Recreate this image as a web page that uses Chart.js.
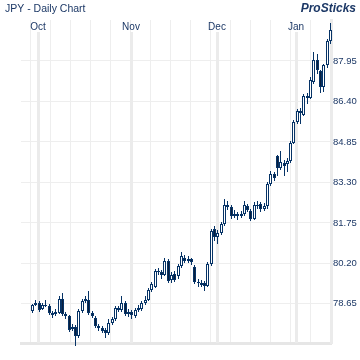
<!DOCTYPE html>
<html>
<head>
<meta charset="utf-8">
<script src="https://cdn.jsdelivr.net/npm/chart.js@4.4.0/dist/chart.umd.min.js"></script>
<style>
  html, body { margin: 0; padding: 0; background: #fff; }
</style>
</head>
<body>
<canvas id="chart" width="360" height="360"></canvas>
<script>
// Daily candles, late Sep -> mid Jan (index 0..90)
const opens = [
  78.37, 78.60, 78.68, 78.45, 78.62, 78.58, 78.30, 78.25, 78.30, 78.85,
  78.25, 78.18, 77.70, 77.78, 77.40, 78.37, 78.75, 78.78, 78.30, 78.12,
  77.80, 77.72, 77.66, 77.52, 77.90, 78.06, 78.48, 78.40, 78.68, 78.26,
  78.33, 78.20, 78.40, 78.45, 78.68, 78.80, 79.17, 79.30, 79.90, 79.85,
  79.75, 80.29, 79.55, 79.78, 79.70, 80.09, 80.40, 80.30, 80.35, 80.05,
  79.50, 79.45, 79.45, 79.33, 80.17, 81.50, 81.20, 81.35, 81.70, 82.45,
  82.35, 82.02, 82.08, 82.00, 82.10, 82.40, 82.22, 81.90, 82.45, 82.48,
  82.30, 82.38, 83.25, 83.62, 84.30, 83.85, 84.05, 84.02, 84.12, 84.82,
  85.62, 86.05, 85.90, 86.62, 86.55, 87.15, 88.00, 87.55, 86.95, 87.78,
  88.70
];
const closes = [
  78.60, 78.68, 78.41, 78.62, 78.58, 78.30, 78.22, 78.35, 78.85, 78.25,
  78.18, 77.65, 77.78, 77.40, 78.37, 78.75, 78.82, 78.30, 78.20, 77.80,
  77.72, 77.62, 77.52, 77.90, 78.06, 78.48, 78.40, 78.68, 78.26, 78.35,
  78.22, 78.40, 78.50, 78.68, 78.80, 79.17, 79.40, 79.90, 79.85, 79.75,
  80.29, 79.52, 79.75, 79.55, 80.09, 80.48, 80.30, 80.38, 80.25, 79.50,
  79.45, 79.38, 79.33, 80.17, 81.44, 81.20, 81.35, 81.70, 82.45, 82.35,
  82.02, 82.10, 82.00, 82.10, 82.45, 82.25, 81.90, 82.45, 82.40, 82.30,
  82.38, 83.25, 83.62, 83.48, 83.85, 84.10, 83.92, 84.12, 84.82, 85.62,
  86.05, 85.95, 86.62, 86.55, 87.22, 88.00, 87.60, 86.95, 87.78, 88.70,
  89.15
];
const highs = [
  78.66, 78.80, 78.74, 78.70, 78.78, 78.64, 78.38, 78.44, 78.95, 79.05,
  78.32, 78.24, 77.88, 77.84, 78.45, 78.82, 78.95, 79.15, 78.38, 78.18,
  77.88, 77.80, 77.72, 78.05, 78.14, 78.55, 78.58, 78.95, 78.74, 78.44,
  78.40, 78.48, 78.60, 78.76, 78.95, 79.26, 79.50, 79.98, 80.02, 79.95,
  80.40, 80.36, 79.86, 79.90, 80.18, 80.62, 80.52, 80.47, 80.42, 80.12,
  79.60, 79.55, 79.52, 80.26, 81.52, 81.62, 81.46, 81.80, 82.65, 82.58,
  82.42, 82.25, 82.18, 82.22, 82.58, 82.48, 82.30, 82.55, 82.58, 82.55,
  82.52, 83.32, 83.72, 83.70, 84.35, 84.50, 84.15, 84.25, 84.90, 85.70,
  86.12, 86.14, 86.70, 86.72, 87.32, 88.28, 88.22, 87.62, 87.85, 88.78,
  89.42
];
const lows = [
  78.30, 78.55, 78.35, 78.40, 78.52, 78.22, 78.12, 78.18, 78.26, 78.18,
  78.08, 77.58, 77.62, 77.02, 77.35, 78.30, 78.68, 78.22, 78.10, 77.72,
  77.62, 77.55, 77.33, 77.46, 77.84, 78.00, 78.33, 78.35, 78.18, 78.16,
  78.06, 78.12, 78.32, 78.38, 78.60, 78.74, 79.10, 79.25, 79.74, 79.62,
  79.70, 79.44, 79.45, 79.48, 79.62, 80.02, 80.20, 80.22, 80.15, 79.42,
  79.30, 79.28, 79.15, 79.28, 80.10, 81.05, 80.95, 81.28, 81.62, 82.25,
  81.90, 81.94, 81.85, 81.92, 82.02, 82.15, 81.82, 81.85, 82.30, 82.18,
  82.22, 82.30, 83.18, 83.36, 83.55, 83.78, 83.55, 83.70, 84.05, 84.76,
  85.55, 85.55, 85.84, 86.30, 86.48, 87.08, 87.45, 86.72, 86.78, 87.70,
  88.62
];

// Price axis labels and month markers (candle index where each month starts)
const priceTicks = [78.65, 80.20, 81.75, 83.30, 84.85, 86.40, 87.95];
const monthNames = ['Oct', 'Nov', 'Dec', 'Jan'];
const monthStart = [2, 30, 56, 80];

const NAVY = '#063366';
const TEXT = '#1c3866';

// Month separators + labels, drawn under the candles
const monthPlugin = {
  id: 'months',
  beforeDatasetsDraw(chart) {
    const { ctx, chartArea: { bottom }, scales: { x } } = chart;

    // snap candles to whole pixels so the thin lines stay crisp
    chart.data.datasets.forEach((ds, di) => {
      chart.getDatasetMeta(di).data.forEach(el => {
        el.x = Math.floor(el.x) + 0.5;
        el.y = Math.round(el.y);
        el.base = Math.round(el.base);
      });
    });

    ctx.save();
    monthStart.forEach((m, i) => {
      const px = Math.round(x.getPixelForValue(m - 0.3));
      ctx.fillStyle = '#ebebeb';
      ctx.fillRect(px - 1, 32, 3, bottom - 32);
      ctx.fillStyle = TEXT;
      ctx.font = '10px "Liberation Sans", Arial, sans-serif';
      ctx.textAlign = 'center';
      ctx.textBaseline = 'alphabetic';
      ctx.fillText(monthNames[i], px, 30);
    });
    ctx.restore();
  },
  afterDraw(chart) {
    const { ctx } = chart;
    ctx.save();
    ctx.fillStyle = TEXT;
    ctx.textBaseline = 'alphabetic';
    ctx.textAlign = 'left';
    ctx.font = '10.5px "Liberation Sans", Arial, sans-serif';
    ctx.fillText('JPY - Daily Chart', 5, 12);
    ctx.textAlign = 'right';
    ctx.font = 'italic bold 12px "Liberation Sans", Arial, sans-serif';
    ctx.fillText('ProSticks', 356, 12);
    ctx.restore();
  },
};

new Chart(document.getElementById('chart'), {
  type: 'bar',
  plugins: [monthPlugin],
  data: {
    datasets: [
      {
        // wicks
        data: lows.map((l, i) => ({ x: i, y: [l, highs[i]] })),
        backgroundColor: NAVY,
        borderWidth: 0,
        barThickness: 1,
        inflateAmount: 0,
        grouped: false,
        order: 2,
        clip: false,
      },
      {
        // bodies: hollow when up, filled when down
        data: opens.map((o, i) => ({ x: i, y: [o, closes[i]] })),
        backgroundColor: opens.map((o, i) => closes[i] >= o ? '#ffffff' : '#0a1f3d'),
        borderColor: NAVY,
        borderWidth: 1,
        borderSkipped: false,
        barThickness: 3,
        inflateAmount: 0,
        grouped: false,
        order: 1,
        clip: false,
      },
    ],
  },
  options: {
    responsive: false,
    animation: false,
    devicePixelRatio: 1,
    layout: { padding: { left: 21, top: 20, right: 0, bottom: 17 } },
    plugins: { legend: { display: false }, tooltip: { enabled: false } },
    scales: {
      x: {
        type: 'linear',
        offset: false,
        min: -3.53,
        max: 90.2,
        ticks: { display: false },
        grid: { color: '#eeeeee', lineWidth: 1, drawTicks: false, offset: false },
        border: { display: true, color: '#e6e6e6', width: 3 },
        afterBuildTicks(scale) {
          // weekly grid lines, 6 sessions apart
          const t = [];
          for (let v = -0.6; v < 90; v += 6.047) t.push({ value: v });
          scale.ticks = t;
        },
        afterFit(scale) { scale.height = 0; },
      },
      y: {
        position: 'right',
        min: 77.15,
        max: 89.52,
        ticks: {
          color: TEXT,
          padding: 2,
          font: { family: '"Liberation Sans", Arial, sans-serif', size: 9.5 },
          callback: v => v.toFixed(2),
        },
        grid: { color: '#eeeeee', lineWidth: 1, drawTicks: false },
        border: { display: true, color: '#ebebeb', width: 3 },
        afterBuildTicks(scale) {
          scale.ticks = priceTicks.map(v => ({ value: v }));
        },
        afterFit(scale) { scale.width = 29; },
      },
    },
  },
});
</script>
</body>
</html>
